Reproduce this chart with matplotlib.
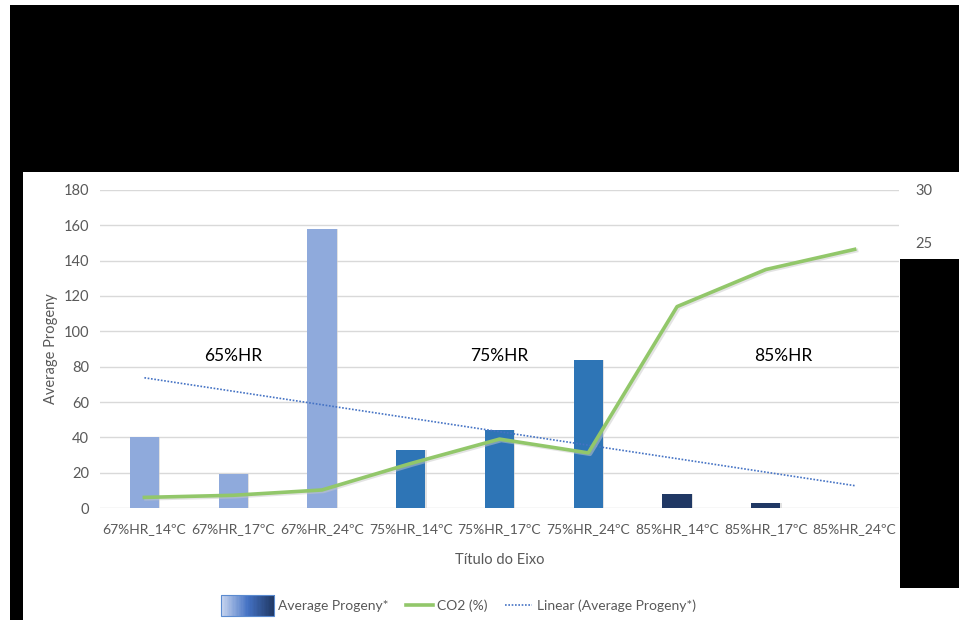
import matplotlib
matplotlib.use("Agg")
import matplotlib.pyplot as plt
import numpy as np
from matplotlib.patches import Rectangle
from matplotlib.lines import Line2D
from matplotlib.legend_handler import HandlerBase
from matplotlib.colors import LinearSegmentedColormap

plt.rcParams['font.family'] = ['Lato', 'DejaVu Sans']

# data
categories = ['67%HR_14ºC', '67%HR_17ºC', '67%HR_24ºC',
              '75%HR_14ºC', '75%HR_17ºC', '75%HR_24ºC',
              '85%HR_14ºC', '85%HR_17ºC', '85%HR_24ºC']
progeny = [40, 19, 158, 33, 44, 84, 8, 2.7, 0]
co2 = [1.0, 1.2, 1.7, 4.2, 6.5, 5.2, 19.0, 22.5, 24.4]
group_labels = ['65%HR', '75%HR', '85%HR']
group_pos = [1.0, 4.0, 7.2]

bar_colors = ['#8FAADC'] * 3 + ['#2E75B6'] * 3 + ['#203864'] * 3
grey = '#595959'
grid_col = '#D9D9D9'
green = '#92C76A'

fig = plt.figure(figsize=(9.59, 6.2), dpi=100)
W, H = 959.0, 620.0

ax = fig.add_axes([100 / W, (H - 508) / H, 799 / W, 318 / H])
x = np.arange(len(categories))

# bars with a soft shadow
ax.bar(x + 0.015, progeny, width=0.33, color='#D0D0D0', alpha=0.6, zorder=2)
ax.bar(x, progeny, width=0.33, color=bar_colors, zorder=3)

# linear trend of the bars
k, b = np.polyfit(x, progeny, 1)
ax.plot(x, k * x + b, linestyle=(0, (1, 1)), color='#4472C4', lw=1.2, zorder=5)

ax.set_xlim(-0.5, len(categories) - 0.5)
ax.set_ylim(0, 180)
ax.set_yticks(np.arange(0, 181, 20))
ax.set_xticks(x)
ax.set_xticklabels(categories)
ax.grid(axis='y', color=grid_col, lw=1)
ax.set_axisbelow(True)
for s in ax.spines.values():
    s.set_visible(False)
ax.tick_params(length=0, colors=grey, labelsize=10.5, pad=8)
ax.tick_params(axis='x', labelsize=10, pad=11)
ax.set_ylabel('Average Progeny', color=grey, fontsize=10.5, labelpad=4)
ax.set_xlabel('Título do Eixo', color=grey, fontsize=10.5, labelpad=13)

for lbl, gx in zip(group_labels, group_pos):
    ax.text(gx, 86, lbl, ha='center', va='center', fontsize=12.5, color='black', zorder=6)

# secondary axis for CO2
ax2 = ax.twinx()
ax2.set_ylim(0, 30)
ax2.set_yticks(np.arange(0, 31, 5))
for s in ax2.spines.values():
    s.set_visible(False)
ax2.tick_params(length=0, colors=grey, labelsize=10.5, pad=12)
ax2.plot(x + 0.02, np.array(co2) - 0.12, color='#C8C8C8', lw=2.8, alpha=0.5, zorder=3)
ax2.plot(x, co2, color=green, lw=2.6, zorder=4)

# black screenshot borders
black = dict(facecolor='black', edgecolor='none', transform=fig.transFigure, zorder=20)
fig.patches.append(Rectangle((10 / W, (H - 172) / H), 949 / W, 167 / H, **black))
fig.patches.append(Rectangle((10 / W, 0), 13 / W, (H - 5) / H, **black))
fig.patches.append(Rectangle((900 / W, (H - 588) / H), 59 / W, 329 / H, **black))


class GradientHandler(HandlerBase):
    def create_artists(self, legend, orig, xd, yd, width, height, fontsize, trans):
        cmap = LinearSegmentedColormap.from_list('g', ['#C5D3EE', '#4472C4', '#203864'])
        n = 40
        x0 = xd - 18
        w = width + 18
        y0 = yd - 4
        h = height + 8
        arts = []
        for i in range(n):
            r = Rectangle((x0 + w * i / n, y0), w / n + 0.3, h,
                          facecolor=cmap(i / (n - 1)), edgecolor='none', transform=trans)
            arts.append(r)
        arts.append(Rectangle((x0, y0), w, h, facecolor='none',
                              edgecolor='#5B8BD0', lw=0.8, transform=trans))
        return arts


h_bar = Rectangle((0, 0), 1, 1)
h_co2 = Line2D([], [], color=green, lw=2.6)
h_lin = Line2D([], [], color='#4472C4', lw=1.2, linestyle=(0, (1, 1)))
leg = fig.legend([h_bar, h_co2, h_lin], ['Average Progeny*', 'CO2 (%)', 'Linear (Average Progeny*)'],
                 handler_map={h_bar: GradientHandler()}, loc='center',
                 bbox_to_anchor=(471 / W, (H - 606) / H),
                 ncol=3, frameon=False, fontsize=10, labelcolor=grey, handlelength=2.0,
                 columnspacing=1.2, handletextpad=0.3)

fig.savefig('out.png', dpi=100)
